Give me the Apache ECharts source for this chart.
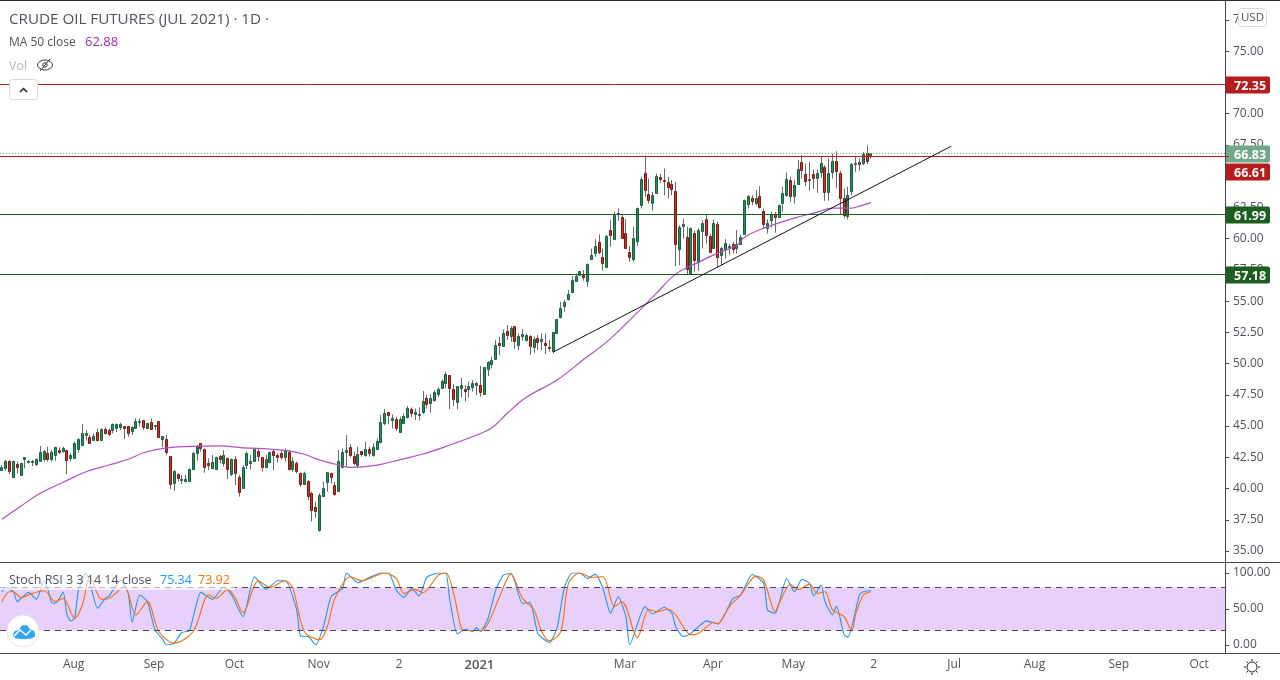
<!DOCTYPE html>
<html>
<head>
<meta charset="utf-8">
<title>Crude Oil Futures</title>
<script src="https://cdn.jsdelivr.net/npm/echarts@6/dist/echarts.min.js"></script>
<style>
  html, body { margin: 0; padding: 0; background: #fff; }
  #chart { width: 1280px; height: 680px; }
</style>
</head>
<body>
<div id="chart"></div>
<script>
// daily candles
var opens = [
  41.48,41.61,42.23,40.95,41.93,41.11,42.36,42.12,42.15,41.99,
  42.23,42.39,42.81,42.36,42.71,43.08,43.03,43.05,42.47,42.47,
  43.19,43.51,44.31,44.15,43.91,44.49,43.91,44.73,44.65,44.68,
  44.87,44.95,44.97,44.97,44.60,44.84,45.35,45.45,44.87,45.29,
  45.03,45.37,43.99,43.93,42.57,40.41,41.13,40.68,40.63,40.63,
  41.53,42.87,43.61,43.13,42.01,41.67,41.53,42.63,42.01,42.41,
  41.13,42.33,40.89,40.01,41.85,42.01,42.23,42.97,42.49,41.75,
  42.09,42.97,42.71,42.81,42.55,42.95,41.59,42.01,41.21,40.39,
  40.57,39.61,38.49,36.71,39.43,40.55,41.21,40.25,39.77,41.75,
  42.95,43.29,
  42.60,41.88,43.00,42.68,43.16,42.71,43.19,43.75,45.21,46.09,
  45.51,45.53,44.55,45.27,45.69,46.33,45.96,45.88,46.15,47.21,
  46.87,47.11,47.59,48.07,48.44,49.05,47.93,46.89,48.07,47.96,
  47.96,48.15,48.28,48.25,47.53,49.53,49.99,50.39,51.64,51.43,
  52.57,52.20,52.97,51.45,52.23,51.91,52.17,51.35,52.01,51.83,
  51.61,51.29,51.03,52.41,53.75,54.63,
  55.13,55.75,56.63,57.13,57.13,56.63,58.39,58.87,59.77,58.57,
  57.75,60.73,59.99,62.09,61.77,60.49,58.97,58.39,59.83,62.71,
  65.29,63.61,62.87,63.67,64.97,64.73,64.57,64.41,63.85,59.19,
  61.03,60.15,57.16,60.49,58.15,60.65,61.61,60.25,59.29,61.21,
  58.68,59.21,59.40,59.61,59.29,59.61,60.39,62.79,63.29,62.87,
  63.40,62.25,60.89,61.48,62.01,61.75,62.87,63.51,64.73,63.43,
  64.41,66.17,65.21,64.76,65.21,64.89,65.37,65.77,63.75,65.37,
  66.25,65.29,63.29,61.85,63.83,65.96,66.17,66.09,66.89,66.63
];
var closes = [
  41.75,42.17,41.43,42.17,41.75,42.01,42.49,42.20,42.20,42.33,
  42.92,42.97,42.36,42.92,43.32,42.95,43.24,42.31,42.68,43.61,
  43.93,44.41,44.44,43.67,44.20,43.88,44.73,44.47,44.39,45.13,
  45.16,45.16,44.87,44.47,44.89,45.37,45.37,44.95,45.21,44.73,
  45.05,44.15,44.17,42.95,40.36,41.40,40.84,40.73,40.73,41.53,
  42.81,43.40,43.27,41.75,41.91,42.09,42.52,42.33,42.65,41.53,
  42.39,41.21,39.69,41.69,42.81,42.17,43.13,42.63,41.69,42.33,
  42.89,42.71,42.55,42.55,43.11,41.59,42.17,41.43,40.33,41.21,
  39.43,38.31,38.23,39.45,40.01,41.29,40.95,39.59,42.17,42.89,
  43.05,42.71,
  42.07,42.76,42.79,43.16,42.87,43.32,43.77,45.29,46.01,45.91,
  45.61,44.84,45.53,45.80,46.41,46.07,46.09,45.93,46.97,46.79,
  47.24,47.72,47.96,48.60,49.13,48.01,47.19,48.17,48.25,47.83,
  48.20,48.41,48.44,47.75,49.69,50.09,50.25,51.45,51.51,52.41,
  52.31,52.81,51.77,52.20,52.36,52.25,51.43,51.93,51.75,51.93,
  51.45,51.21,52.49,53.53,54.41,54.89,
  55.53,56.68,57.00,57.40,56.95,58.01,58.73,59.45,58.95,58.07,
  60.25,60.31,61.91,61.96,60.07,59.27,58.55,60.09,62.49,64.81,
  63.91,63.13,63.53,65.05,64.79,64.63,64.17,63.99,59.61,60.97,
  61.21,57.61,60.89,58.31,60.73,61.29,60.33,58.97,61.29,58.57,
  59.29,59.69,59.45,59.19,59.61,60.17,63.08,63.40,63.03,63.29,
  62.55,61.21,61.29,61.99,61.75,62.73,63.69,64.81,63.43,64.33,
  65.61,65.53,64.63,64.81,64.87,65.29,66.09,63.75,65.29,66.25,
  65.45,63.29,61.91,63.53,66.01,66.09,66.01,66.81,66.23,66.83
];
var highs = [
  41.88,42.28,42.28,42.23,42.15,42.01,42.49,42.28,42.28,42.41,
  43.40,43.08,43.35,43.08,43.35,43.29,43.35,43.08,42.81,43.75,
  44.01,45.16,44.68,44.28,44.41,44.81,44.81,44.89,44.81,45.21,
  45.21,45.27,45.00,45.00,45.00,45.61,45.61,45.48,45.21,45.61,
  45.08,45.40,44.20,44.28,42.60,41.48,41.21,41.08,41.08,41.61,
  42.95,43.48,43.61,43.21,42.41,42.68,42.55,42.68,43.08,42.49,
  42.41,42.60,41.08,41.88,42.95,42.68,43.21,43.21,42.55,42.68,
  42.95,43.08,42.81,43.08,43.21,43.08,42.49,42.15,41.27,41.35,
  40.68,39.75,38.95,39.61,40.55,41.32,41.27,40.55,43.08,43.21,
  44.28,43.56,
  42.95,43.35,43.03,43.75,43.35,43.61,44.01,45.88,46.36,46.09,
  45.93,45.75,45.75,46.01,46.60,46.49,46.41,46.49,47.80,47.48,
  47.56,47.88,48.09,48.73,49.35,49.08,48.36,48.20,48.84,48.28,
  48.55,48.68,48.55,49.80,49.69,50.20,50.55,51.88,52.15,52.73,
  53.08,53.00,53.00,52.41,52.76,52.41,52.28,52.15,52.28,52.41,
  52.41,51.88,52.49,53.53,54.95,55.08,
  55.88,57.00,57.21,57.40,57.48,58.01,59.21,59.96,60.33,59.21,
  60.28,61.48,62.17,62.41,61.88,61.56,59.40,60.95,62.49,64.95,
  66.65,64.81,63.75,65.21,65.21,65.61,64.95,64.68,64.55,61.08,
  61.61,60.95,60.89,60.63,60.81,61.48,61.93,60.41,61.53,61.35,
  59.35,59.96,59.61,59.75,60.68,60.33,63.13,63.48,63.48,63.88,
  64.20,62.41,61.53,62.15,62.15,62.73,64.15,65.29,64.95,64.68,
  66.28,66.68,66.01,66.15,65.53,65.53,66.55,65.88,66.41,66.81,
  67.00,65.43,64.01,64.15,66.07,66.55,66.41,66.95,67.48,66.87
];
var lows = [
  41.48,41.43,41.16,40.89,41.21,41.11,41.61,42.01,41.80,41.80,
  42.23,42.15,42.15,42.15,42.23,42.76,42.87,41.16,42.15,42.41,
  42.87,43.51,43.83,43.56,43.88,43.77,43.83,44.31,44.20,44.41,
  44.52,44.68,43.96,44.15,44.28,44.84,44.95,44.68,44.84,44.68,
  44.68,44.01,43.29,42.68,39.96,39.83,40.55,40.36,40.47,40.63,
  41.53,42.23,42.95,41.27,41.48,41.53,41.48,42.01,41.75,40.76,
  41.00,40.28,39.35,40.01,41.56,41.53,42.23,42.15,41.35,41.61,
  42.01,41.48,42.07,42.33,42.15,41.43,41.35,41.21,40.15,40.28,
  39.08,37.35,37.67,36.55,39.35,39.75,40.41,39.43,39.75,41.61,
  41.75,42.49,
  41.88,41.61,42.55,42.55,42.55,42.55,43.19,43.61,45.08,45.16,
  44.81,44.63,44.47,45.16,45.61,45.69,45.48,45.43,45.96,46.41,
  46.07,46.95,47.35,48.01,48.01,46.36,46.60,46.33,47.29,46.95,
  47.29,47.75,47.48,47.35,47.53,49.00,49.61,50.33,50.68,51.35,
  51.88,51.75,51.16,51.08,51.83,51.77,50.73,50.87,51.08,51.08,
  50.76,50.95,50.81,52.41,53.61,54.15,
  55.03,55.69,56.55,57.00,56.63,56.15,58.33,58.55,58.76,57.43,
  57.75,59.35,59.93,61.43,60.01,59.21,58.15,58.15,59.40,62.41,
  63.35,62.81,62.23,63.61,64.47,63.48,63.21,63.48,57.80,57.88,
  60.01,57.16,57.16,57.35,57.43,59.21,59.61,58.87,59.21,57.69,
  57.88,58.41,58.68,58.81,58.81,59.56,60.36,62.41,62.68,62.68,
  62.41,60.81,60.41,60.89,60.47,61.75,62.15,63.35,62.95,62.81,
  64.36,64.81,64.20,63.83,63.96,63.67,64.89,63.03,63.03,64.81,
  64.01,61.96,61.61,61.53,63.48,65.35,65.43,65.88,65.96,66.41
];

// MA 50, sampled at the bars where it bends
var maBars = [0,5,10,16,22,28,33,37,43,52,57,63,70,75,79,83,87,91,98,104,110,117,124,128,132,137,145,152,158,164,171,176,182,187,192,194,199,207,213,217,222,224,227];
var maValues = [37.54,38.6,39.62,40.5,41.34,41.88,42.34,42.86,43.26,43.4,43.42,43.26,43.16,43.02,42.74,42.28,41.96,41.7,41.88,42.31,42.76,43.48,44.28,44.86,46.02,47.3,48.68,50.34,51.74,53.48,55.64,57.16,58.12,58.84,59.48,60.12,60.84,61.64,62.12,62.44,62.44,62.6,62.88];

// Stoch RSI, sampled at the turning points
var kBars = [0,1,3,4,5,7,9,11,12,13,14,16,17,18,19,20,22,23,25,27,28,31,33,34,36,38,40,42,43,45,47,49,52,55,58,60,63,66,69,72,74,77,78,80,82,84,86,89,90,93,96,99,101,103,105,107,109,111,114,115,116,117,119,121,123,124,125,127,129,131,133,136,138,140,143,145,147,149,151,153,155,157,159,161,163,164,168,170,173,175,176,178,180,182,184,187,191,193,196,199,200,202,203,205,207,209,211,212,214,215,217,218,220,221,224,225,227];
var kValues = [74,80,74,60.2,64.8,73.1,63.4,89.2,77.2,58.8,57.9,73.1,41.8,33.5,37.1,76.3,100,85.5,51,64.8,68,90.1,71.7,31.6,69.4,60.2,21,8.1,0,2.6,17.3,20.1,73.1,63.4,80.9,69.4,39.4,94.7,77.2,89.2,89.2,48.7,12.7,11.8,0.3,25.6,67.1,78.6,100,86.5,93.8,100,100,76.3,66.2,78.6,68,93.8,100,100,100,62.5,15.5,21.9,18.7,24.2,18.7,37.1,76.3,97,99.3,57.9,58.8,16.4,3.5,23.3,80.9,100,100,92.4,98.4,78.6,44.1,67.1,39.4,0.3,53.3,43.1,52.4,44.1,25.6,11.8,16.4,25.6,33.5,29.4,64.8,69.4,98,85.5,48.7,44.1,57.9,92.4,74,91.1,85.5,68,83.2,60.2,41.8,54.2,14.1,10.9,69.4,74,75.34];
var dBars = [0,2,3,5,8,11,14,16,19,21,23,26,28,32,35,38,41,45,50,54,56,59,61,63,67,70,74,76,79,83,85,87,91,94,100,103,105,108,110,114,116,118,120,121,125,127,130,133,134,136,139,141,143,146,148,151,154,157,160,162,166,169,171,174,176,180,182,186,187,190,193,197,199,202,203,206,208,211,213,215,217,220,222,223,225,227];
var dValues = [60.2,74,74,65.7,71.7,75.4,60.2,64.8,37.1,55.6,94.7,63.4,64.8,80.9,41.8,60.2,18.7,2.6,18.7,69.4,64.8,77.2,64.8,45,89.2,80,89.2,78.6,18.7,7.2,25.6,64.8,94.7,89.2,100,92.4,71.7,77.2,72.6,97,100,71.7,23.3,20.1,20.1,30.2,67.1,98.4,90.1,64.8,48.7,18.7,5.8,18.7,85.5,100,93.8,94.7,53.3,60.2,10.4,49.6,46.4,49.6,41.8,14.1,16.4,31.2,29.3,53.3,69.4,95.7,90.1,46.4,57.9,84.1,77.2,84.6,71.7,74,48.7,39.4,19.6,41.8,69.4,73.92];

// horizontal levels with their price tags
var levelPrices = [72.35, 66.83, 66.61, 61.99, 57.18];
var levelColors = ['#b71c1c', '#6fa98a', '#b71c1c', '#1b5e20', '#1b5e20'];
var trendBars = [144, 248];
var trendPrices = [50.92, 67.4];

// time axis
var barCount = 320;
var tickBars = [19, 40, 61, 83, 104, 125, 163, 186, 207, 228, 249, 270, 292, 313];
var tickLabels = ['Aug', 'Sep', 'Oct', 'Nov', '2', '2021', 'Mar', 'Apr', 'May', '2', 'Jul', 'Aug', 'Sep', 'Oct'];

var FONT = '"Open Sans", sans-serif';
var categories = [];
for (var i = 0; i < barCount; i++) categories.push('');
tickBars.forEach(function (b, k) { categories[b] = tickLabels[k]; });

var myChart = echarts.init(document.getElementById('chart'), null, { renderer: 'canvas' });

function pairs(xs, ys) {
  return xs.map(function (x, k) { return [x, ys[k]]; });
}

// wick in grey, body with a darker outline
function renderCandle(params, api) {
  var i = api.value(0), o = api.value(1), c = api.value(2), l = api.value(3), h = api.value(4);
  var up = c >= o;
  var x = Math.floor(api.coord([i, o])[0]) + 0.5;
  var yTop = Math.round(api.coord([i, Math.max(o, c)])[1]) + 0.5;
  var yBot = Math.round(api.coord([i, Math.min(o, c)])[1]) + 0.5;
  var yH = api.coord([i, h])[1];
  var yL = api.coord([i, l])[1];
  return {
    type: 'group',
    children: [
      { type: 'line', shape: { x1: x, y1: yH, x2: x, y2: yL }, style: { stroke: '#6a6a6a', lineWidth: 1 } },
      {
        type: 'rect',
        shape: { x: x - 1, y: yTop, width: 2, height: Math.max(yBot - yTop, 1) },
        style: { fill: up ? '#2f8a62' : '#cf3527', stroke: up ? '#17603c' : '#7c1712', lineWidth: 1 }
      }
    ]
  };
}

// level line across the pane plus its tag over the price scale
function renderLevel(params, api) {
  var k = params.dataIndex;
  var price = api.value(1);
  var y = Math.round(api.coord([0, price])[1]) + 0.5;
  var rect = params.coordSys;
  var right = rect.x + rect.width;
  var tagY = k === 2 ? y + 15 : y;
  var dotted = k === 1;
  return {
    type: 'group',
    children: [
      {
        type: 'line',
        shape: { x1: 0, y1: y, x2: right + 4, y2: y },
        style: { stroke: levelColors[k], lineWidth: 1, lineDash: dotted ? [1, 2] : null }
      },
      {
        type: 'rect',
        shape: { x: right, y: tagY - 8, width: 45, height: 17, r: [0, 2, 2, 0] },
        style: { fill: levelColors[k] }
      },
      {
        type: 'text',
        x: right + 9, y: tagY + 1.5,
        style: { text: price.toFixed(2), fill: '#fff', font: 'bold 12.5px ' + FONT, textVerticalAlign: 'middle' }
      }
    ]
  };
}

var axisColor = '#43464f';
var labelColor = '#50535e';

// small line for the settings icon and other chrome
function stroke(x1, y1, x2, y2, color, z) {
  return { type: 'line', z: z, shape: { x1: x1, y1: y1, x2: x2, y2: y2 }, style: { stroke: color, lineWidth: 1 } };
}

var graphics = [
  // pane frame
  { type: 'rect', z: 50, shape: { x: 0, y: 0, width: 1280, height: 1 }, style: { fill: '#2a2e39' } },
  { type: 'rect', z: 50, shape: { x: 0, y: 562, width: 1280, height: 1 }, style: { fill: axisColor } },
  { type: 'rect', z: 50, shape: { x: 1225, y: 0, width: 1, height: 653 }, style: { fill: axisColor } },
  { type: 'rect', z: 50, shape: { x: 1225, y: 653, width: 55, height: 1 }, style: { fill: axisColor } },
  // legends
  { type: 'text', z: 60, x: 9, y: 19.5, style: { text: 'CRUDE OIL FUTURES (JUL 2021) · 1D ·', fill: '#50535e', font: '15.2px ' + FONT, textVerticalAlign: 'middle' } },
  { type: 'text', z: 60, x: 9, y: 42.5, style: { text: 'MA 50 close', fill: '#50535e', font: '12px ' + FONT, textVerticalAlign: 'middle' } },
  { type: 'text', z: 60, x: 85, y: 42.5, style: { text: '62.88', fill: '#9c27b0', font: '13px ' + FONT, textVerticalAlign: 'middle' } },
  { type: 'text', z: 60, x: 9, y: 66.5, style: { text: 'Vol', fill: '#b2b5be', font: '12.5px ' + FONT, textVerticalAlign: 'middle' } },
  // crossed eye
  { type: 'polygon', z: 60, shape: { smooth: 0.5, points: [[37.5, 65], [45, 60], [52.5, 65], [45, 70]] }, style: { fill: null, stroke: '#333', lineWidth: 1 } },
  { type: 'circle', z: 60, shape: { cx: 45, cy: 65, r: 2.2 }, style: { fill: null, stroke: '#333', lineWidth: 1 } },
  stroke(40, 71, 50, 59, '#333', 60),
  // collapse button
  { type: 'rect', z: 60, shape: { x: 9.5, y: 79.5, width: 28, height: 20, r: 3 }, style: { fill: '#fff', stroke: '#d6d8e0', lineWidth: 1 } },
  { type: 'polyline', z: 61, shape: { points: [[20, 92], [23.5, 88.5], [27, 92]] }, style: { fill: null, stroke: '#222', lineWidth: 1.5 } },
  // currency button
  { type: 'rect', z: 60, shape: { x: 1238.5, y: 8.5, width: 28, height: 18, r: 3 }, style: { fill: '#fff', stroke: '#d6d8e0', lineWidth: 1 } },
  { type: 'text', z: 61, x: 1252.5, y: 18, style: { text: 'USD', fill: '#50535e', font: '11.5px ' + FONT, textAlign: 'center', textVerticalAlign: 'middle' } },
  // stoch legend with its pale backdrop
  { type: 'rect', z: 59, shape: { x: 0, y: 563, width: 235, height: 27 }, style: { fill: 'rgba(255,255,255,0.62)' } },
  { type: 'text', z: 60, x: 9, y: 580, style: { text: 'Stoch RSI 3 3 14 14 close', fill: '#50535e', font: '12.5px ' + FONT, textVerticalAlign: 'middle' } },
  { type: 'text', z: 60, x: 160, y: 580, style: { text: '75.34', fill: '#2196f3', font: '12.5px ' + FONT, textVerticalAlign: 'middle' } },
  { type: 'text', z: 60, x: 198, y: 580, style: { text: '73.92', fill: '#ff6d00', font: '12.5px ' + FONT, textVerticalAlign: 'middle' } },
  // logo
  { type: 'circle', z: 60, shape: { cx: 23, cy: 631, r: 16 }, style: { fill: '#fff', stroke: '#e4e4ea', lineWidth: 1 } },
  { type: 'polygon', z: 61, shape: { smooth: 0.25, points: [[13, 635], [15, 631], [19, 630], [22, 625.5], [27, 625.5], [30, 629], [34, 631], [35, 636], [31, 638.5], [16, 638.5]] }, style: { fill: '#2ea6f0' } },
  { type: 'polyline', z: 62, shape: { points: [[14, 636], [20, 630], [26, 635], [31, 630]] }, style: { fill: null, stroke: '#fff', lineWidth: 1.5 } },
  // settings
  { type: 'circle', z: 60, shape: { cx: 1252, cy: 667, r: 5 }, style: { fill: '#fff', stroke: '#222', lineWidth: 1 } },
  stroke(1252, 659, 1252, 661, '#222', 60), stroke(1252, 673, 1252, 675, '#222', 60),
  stroke(1244, 667, 1246, 667, '#222', 60), stroke(1258, 667, 1260, 667, '#222', 60),
  stroke(1246.5, 661.5, 1248, 663, '#222', 60), stroke(1256, 671, 1257.5, 672.5, '#222', 60),
  stroke(1246.5, 672.5, 1248, 671, '#222', 60), stroke(1256, 663, 1257.5, 661.5, '#222', 60)
];

var option = {
  animation: false,
  backgroundColor: '#fff',
  grid: [
    { left: -2, width: 1227, top: 20, height: 531 },
    { left: -2, width: 1227, top: 573, height: 72 }
  ],
  xAxis: [
    { type: 'category', gridIndex: 0, data: categories, show: false },
    {
      type: 'category', gridIndex: 1, data: categories, offset: 8,
      axisLine: { onZero: false, lineStyle: { color: axisColor } },
      axisTick: {
        alignWithLabel: true, length: 4,
        interval: function (idx, val) { return val !== ''; },
        lineStyle: { color: axisColor }
      },
      axisLabel: {
        interval: function (idx, val) { return val !== ''; },
        color: labelColor, fontFamily: FONT, fontSize: 12, margin: 6, padding: [0, 2, 0, 0],
        formatter: function (v) { return v === '2021' ? '{y|2021}' : v; },
        rich: { y: { fontFamily: FONT, fontSize: 13, fontWeight: 600, color: '#50535e' } }
      }
    }
  ],
  yAxis: [
    {
      type: 'value', gridIndex: 0, position: 'right', min: 35, max: 77.5, interval: 2.5,
      axisLine: { show: true, lineStyle: { color: axisColor } },
      axisTick: { show: true, length: 4, lineStyle: { color: axisColor } },
      splitLine: { show: false },
      axisLabel: {
        color: labelColor, fontFamily: FONT, fontSize: 12, margin: 8, padding: [2, 0, 0, 0],
        formatter: function (v) { return v.toFixed(2); }
      }
    },
    {
      type: 'value', gridIndex: 1, position: 'right', min: 0, max: 100, interval: 50,
      axisLine: { show: true, lineStyle: { color: axisColor } },
      axisTick: { show: true, length: 4, lineStyle: { color: axisColor } },
      splitLine: { show: false },
      axisLabel: {
        color: labelColor, fontFamily: FONT, fontSize: 12, margin: 8, padding: [2, 0, 0, 0],
        formatter: function (v) { return v.toFixed(2); }
      }
    }
  ],
  series: [
    {
      name: 'Candles', type: 'custom', xAxisIndex: 0, yAxisIndex: 0, z: 2, clip: false,
      renderItem: renderCandle,
      encode: { x: 0, y: [1, 2, 3, 4] },
      data: opens.map(function (o, k) { return [k, o, closes[k], lows[k], highs[k]]; })
    },
    {
      name: 'MA 50', type: 'line', xAxisIndex: 0, yAxisIndex: 0, z: 3, smooth: 0.4,
      data: pairs(maBars, maValues), showSymbol: false,
      lineStyle: { color: '#b14fc4', width: 1.2 }
    },
    {
      name: 'Levels', type: 'custom', xAxisIndex: 0, yAxisIndex: 0, z: 4, clip: false,
      renderItem: renderLevel,
      encode: { y: 1 },
      data: levelPrices.map(function (p) { return [0, p]; })
    },
    {
      name: 'Trend', type: 'line', xAxisIndex: 0, yAxisIndex: 0, z: 5,
      data: pairs(trendBars, trendPrices), showSymbol: false,
      lineStyle: { color: '#111', width: 1 }
    },
    {
      name: 'Band', type: 'line', xAxisIndex: 1, yAxisIndex: 1, z: 1, data: [], silent: true,
      markArea: {
        silent: true,
        itemStyle: { color: '#e8d0fc' },
        data: [[{ yAxis: 20 }, { yAxis: 80 }]]
      },
      markLine: {
        silent: true, symbol: 'none', label: { show: false },
        lineStyle: { color: '#4e4360', type: [6, 5], width: 1 },
        data: [{ yAxis: 80 }, { yAxis: 20 }]
      }
    },
    {
      name: 'K', type: 'line', xAxisIndex: 1, yAxisIndex: 1, z: 3, smooth: 0.2,
      data: pairs(kBars, kValues), showSymbol: false,
      lineStyle: { color: '#2196f3', width: 1.1 }
    },
    {
      name: 'D', type: 'line', xAxisIndex: 1, yAxisIndex: 1, z: 4, smooth: 0.3,
      data: pairs(dBars, dValues), showSymbol: false,
      lineStyle: { color: '#ff6d00', width: 1.1 }
    }
  ],
  graphic: graphics
};

myChart.setOption(option);
window.addEventListener('resize', function () {
  myChart.resize();
});
</script>
</body>
</html>
